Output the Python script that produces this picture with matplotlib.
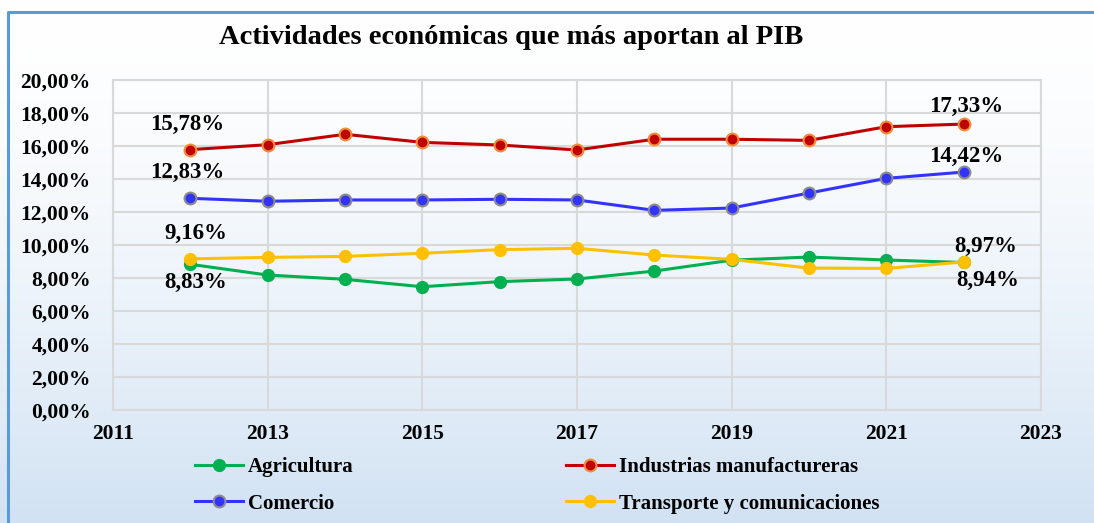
import numpy as np
import matplotlib.pyplot as plt
from matplotlib.ticker import FuncFormatter

# Data
years = [2012, 2013, 2014, 2015, 2016, 2017, 2018, 2019, 2020, 2021, 2022]
agricultura = [8.83, 8.18, 7.92, 7.47, 7.78, 7.94, 8.42, 9.08, 9.27, 9.09, 8.94]
industrias = [15.78, 16.08, 16.71, 16.22, 16.06, 15.76, 16.41, 16.41, 16.34, 17.17, 17.33]
comercio = [12.83, 12.65, 12.73, 12.73, 12.77, 12.73, 12.10, 12.24, 13.15, 14.04, 14.42]
transporte = [9.16, 9.25, 9.31, 9.50, 9.72, 9.80, 9.39, 9.13, 8.60, 8.58, 8.97]

title = "Actividades económicas que más aportan al PIB"
serif = "Liberation Serif"

fig = plt.figure(figsize=(10.94, 5.23), dpi=100)

# background gradient + border
bg = fig.add_axes([0, 0, 1, 1], zorder=-10)
grad = np.linspace(0, 1, 256) ** 1.6
top = np.array([1.0, 1.0, 1.0])
bottom = np.array([0.82, 0.886, 0.953])
img = top[None, None, :] * (1 - grad[:, None, None]) + bottom[None, None, :] * grad[:, None, None]
bg.imshow(img, aspect="auto", extent=[0, 1, 0, 1], origin="upper")
bg.plot([8 / 1094, 8 / 1094, 1], [0, 1 - 12 / 523, 1 - 12 / 523], color="#5b9bd5", lw=2.2)
bg.set_xlim(0, 1)
bg.set_ylim(0, 1)
bg.axis("off")

ax = fig.add_axes([113 / 1094, 1 - 410 / 523, (1041 - 113) / 1094, (410 - 80) / 523])
ax.set_facecolor("none")

ax.plot(years, agricultura, color="#00b050", lw=2.2, marker="o", ms=8.5,
        mfc="#00b050", mec="#00b050", label="Agricultura")
ax.plot(years, comercio, color="#3333ff", lw=2.2, marker="o", ms=8.5,
        mfc="#3333ff", mec="#8c8c8c", mew=1.5, label="Comercio")
ax.plot(years, industrias, color="#c00000", lw=2.2, marker="o", ms=8.5,
        mfc="#c00000", mec="#f08c3c", mew=1.5, label="Industrias manufactureras")
ax.plot(years, transporte, color="#ffc000", lw=2.2, marker="o", ms=8.5,
        mfc="#ffc000", mec="#ffc000", label="Transporte y comunicaciones")

ax.set_xlim(2011, 2023)
ax.set_ylim(0, 20)
ax.set_xticks(range(2011, 2024, 2))
ax.set_yticks(range(0, 21, 2))
ax.yaxis.set_major_formatter(FuncFormatter(lambda v, p: f"{v:.2f}%".replace(".", ",")))
ax.grid(True, color="#d9d9d9", lw=1.5)
ax.set_axisbelow(True)
for s in ax.spines.values():
    s.set_color("#d9d9d9")
    s.set_linewidth(1.5)
ax.tick_params(length=0, labelsize=15.5, pad=10)
ax.tick_params(axis="y", pad=16)
for lbl in ax.get_xticklabels() + ax.get_yticklabels():
    lbl.set_fontfamily(serif)
    lbl.set_fontweight("bold")

# data labels for first and last points
lab = dict(fontsize=16.5, fontweight="bold", family=serif, ha="center", va="center",
           textcoords="offset points")
fmt = lambda v: f"{v:.2f}%".replace(".", ",")
ax.annotate(fmt(industrias[0]), (years[0], industrias[0]), xytext=(-2, 18), **lab)
ax.annotate(fmt(comercio[0]), (years[0], comercio[0]), xytext=(-2, 18.5), **lab)
ax.annotate(fmt(transporte[0]), (years[0], transporte[0]), xytext=(4, 18), **lab)
ax.annotate(fmt(agricultura[0]), (years[0], agricultura[0]), xytext=(4, -13), **lab)
ax.annotate(fmt(industrias[-1]), (years[-1], industrias[-1]), xytext=(1.5, 13), **lab)
ax.annotate(fmt(comercio[-1]), (years[-1], comercio[-1]), xytext=(1.5, 11), **lab)
ax.annotate(fmt(transporte[-1]), (years[-1], transporte[-1]), xytext=(16, 11.5), **lab)
ax.annotate(fmt(agricultura[-1]), (years[-1], agricultura[-1]), xytext=(17, -13), **lab)

fig.text(511 / 1094, 1 - 38 / 523, title, ha="center", va="center",
         fontsize=20.5, fontweight="bold", family=serif)

fig.legend(loc="upper left", bbox_to_anchor=(195 / 1094, 1 - 457 / 523), ncol=2,
           frameon=False, borderpad=0, borderaxespad=0, handlelength=2.3,
           handletextpad=0.25, columnspacing=10.2, labelspacing=0.8,
           prop={"family": serif, "weight": "bold", "size": 15})

fig.savefig("out.png", dpi=100)
